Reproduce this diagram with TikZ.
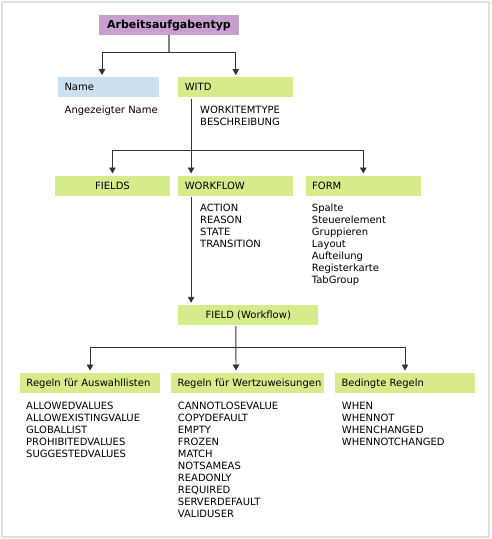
\documentclass[tikz,border=0pt]{standalone}
\usepackage{fontspec}
\setmainfont{DejaVu Sans}
\usepackage{xcolor}
\usepackage{tikz}
\usetikzlibrary{positioning, calc, arrows.meta}

\definecolor{typlila}{RGB}{200,160,208}
\definecolor{nameblau}{RGB}{204,224,240}
\definecolor{witdgruen}{RGB}{214,236,140}
\definecolor{linie}{RGB}{51,51,51}

\begin{document}
\begin{tikzpicture}[x=1pt, y=-1pt,
	every node/.style={font=\fontsize{10}{12}\selectfont},
	box/.style={minimum height=20pt, inner xsep=6.5pt, inner ysep=0pt, text height=7.3pt, text depth=0pt},
	lbox/.style={box, text width=#1, align=left},
	cbox/.style={box, minimum width=#1, align=center},
	item/.style={anchor=base west, inner sep=0pt},
	arr/.style={draw=linie, line width=0.9pt, shorten <=1pt, shorten >=2pt, -{Triangle[length=6pt,width=6.5pt]}},
	stub/.style={draw=gray, line width=1.6pt}]
		
		%//frame, 491 x 539
		\useasboundingbox (0,0) rectangle (491,539);
		\draw[black!12, line width=1.5pt] (2,2) rectangle (489,537);
		
		\node [cbox=140pt, fill=typlila, font=\fontsize{11}{12}\selectfont\bfseries] (typ) at (169,25) {Arbeitsaufgabentyp};
		
		\node [lbox=88pt, fill=nameblau] (name) at (108.5,87.3) {Name};
		\node [lbox=102pt, fill=witdgruen] (witd) at (235.8,87.3) {WITD};
		
		\node [item] (anzeige) at (64.5,113) {Angezeigter Name};
		\foreach \t [count=\i from 0] in {WORKITEMTYPE, BESCHREIBUNG}
		\node [item] at (200,113+12*\i) {\t};
		
		\node [cbox=115pt, fill=witdgruen] (fields) at (112.5,185.7) {FIELDS};
		\node [lbox=102pt, fill=witdgruen] (workflow) at (235.8,185.7) {WORKFLOW};
		\node [lbox=102.3pt, fill=witdgruen] (form) at (363.3,185.7) {FORM};
		
		\foreach \t [count=\i from 0] in {ACTION, REASON, STATE, TRANSITION}
		\node [item] at (200,211+12*\i) {\t};
		
		\foreach \t [count=\i from 0] in {Spalte, Steuerelement, Gruppieren, Layout, Aufteilung, Registerkarte, TabGroup}
		\node [item] at (311.7,211+12*\i) {\t};
		
		\node [cbox=140pt, fill=witdgruen] (field) at (248.3,315) {FIELD (Workflow)};
		
		\node [lbox=127pt, fill=witdgruen] (auswahl) at (90,382.7) {Regeln für Auswahllisten};
		\node [lbox=140.3pt, fill=witdgruen] (wert) at (247.7,382.7) {\mbox{Regeln für Wertzuweisungen}};
		\node [lbox=127pt, fill=witdgruen] (bedingt) at (405,382.7) {Bedingte Regeln};
		
		\foreach \t [count=\i from 0] in {ALLOWEDVALUES, ALLOWEXISTINGVALUE, GLOBALLIST, PROHIBITEDVALUES, SUGGESTEDVALUES}
		\node [item] at (26,409.5+12*\i) {\t};
		
		\foreach \t [count=\i from 0] in {CANNOTLOSEVALUE, COPYDEFAULT, EMPTY, FROZEN, MATCH, NOTSAMEAS, READONLY, REQUIRED, SERVERDEFAULT, VALIDUSER}
		\node [item] at (177.7,409.5+12*\i) {\t};
		
		\foreach \t [count=\i from 0] in {WHEN, WHENNOT, WHENCHANGED, WHENNOTCHANGED}
		\node [item] at (341.7,409.5+12*\i) {\t};
		
		%//connectors
		\coordinate (b1) at (169,52);
		\coordinate (b2) at (191.3,150.5);
		\coordinate (b3) at (236,347);
		
		\draw[stub] (typ.south) -- (b1);
		\draw[arr, shorten <=0pt] (b1) -| ([xshift=-6.5pt]name.north);
		\draw[arr, shorten <=0pt] (b1) -| (witd.north);
		
		\draw[arr] ([xshift=13pt]witd.south west) -- ([xshift=13pt]workflow.north west);
		\draw[arr, shorten <=0pt] (b2) -| (fields.north);
		\draw[arr, shorten <=0pt] (b2) -| (form.north);
		
		\draw[arr] ([xshift=13pt]workflow.south west) -- ([xshift=13pt]field.north west);
		
		\draw[arr] ([xshift=57.7pt]field.south west) -- ([xshift=-11.7pt]wert.north);
		\draw[arr, shorten <=0pt] (b3) -| (auswahl.north);
		\draw[arr, shorten <=0pt] (b3) -| (bedingt.north);
		
		\end{tikzpicture}
\end{document}
